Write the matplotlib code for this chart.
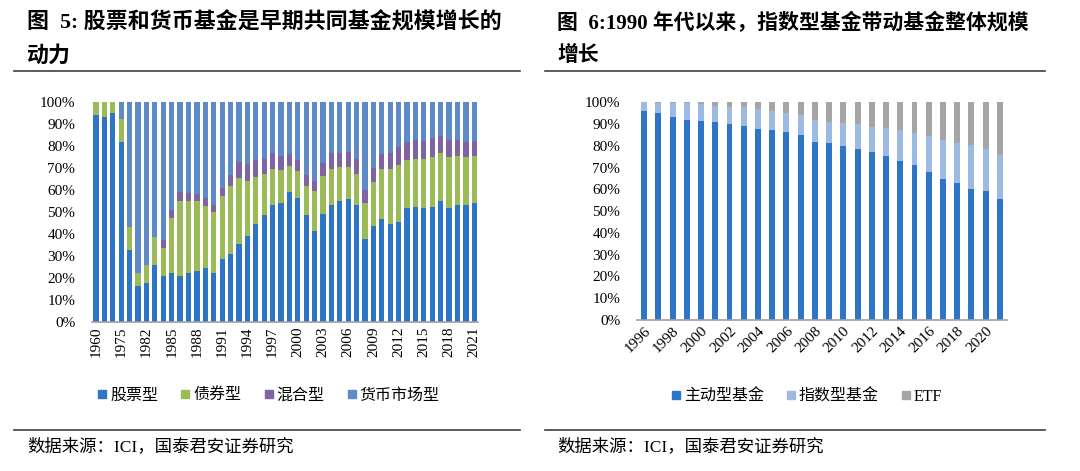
import matplotlib
matplotlib.use("Agg")
import matplotlib.pyplot as plt
from matplotlib.lines import Line2D
import numpy as np

plt.rcParams['font.family'] = ['Liberation Serif', 'Noto Sans CJK SC']

# ---- Left chart data ----
years_l = ['1960', '1965', '1970', '1975'] + [str(y) for y in range(1980, 2022)]
stock = [94.2, 93.0, 95.0, 81.6, 32.6, 16.5, 17.8, 25.7, 21.1, 22.2, 21.1, 22.4, 23.1, 24.5,
         22.2, 28.6, 31.1, 35.5, 39.2, 44.6, 48.7, 53.0, 53.9, 59.1, 56.4, 48.5, 41.2, 49.3,
         53.3, 54.8, 56.0, 53.3, 37.7, 43.6, 47.0, 44.6, 45.3, 51.6, 52.2, 51.9, 52.4, 54.8,
         51.9, 53.0, 53.0, 54.2]
bond_top = [100, 100, 100, 92.3, 43.3, 22.4, 25.7, 38.6, 33.7, 47.2, 55.1, 54.8, 54.8, 52.8,
            49.8, 57.4, 62.0, 65.5, 64.3, 66.0, 67.1, 69.4, 69.1, 70.9, 68.5, 62.0, 59.4, 66.3,
            69.7, 70.3, 70.4, 67.2, 54.1, 63.6, 69.4, 69.4, 71.5, 73.5, 74.1, 74.0, 74.9, 76.7,
            75.2, 75.6, 75.2, 75.3]
mixed_top = [100, 100, 100, 92.3, 43.3, 22.4, 25.7, 38.6, 37.1, 50.7, 59.0, 58.7, 58.2, 56.4,
             53.0, 61.0, 66.8, 72.7, 71.7, 73.5, 74.3, 76.6, 75.5, 76.3, 73.5, 66.8, 64.3, 72.4,
             76.6, 77.0, 77.5, 74.3, 59.9, 70.0, 76.3, 76.9, 79.6, 81.9, 82.8, 82.4, 83.5, 84.7,
             82.8, 82.8, 81.9, 82.4]
bond = [b - s for b, s in zip(bond_top, stock)]
mixed = [m - b for m, b in zip(mixed_top, bond_top)]
money = [100 - m for m in mixed_top]
series_l = ['股票型', '债券型', '混合型', '货币市场型']
colors_l = ['#2E75C6', '#9BBB59', '#8064A2', '#5F8AC8']

# ---- Right chart data ----
years_r = [str(y) for y in range(1996, 2022)]
active = [96.2, 94.9, 93.4, 92.0, 91.4, 90.8, 90.0, 89.3, 87.9, 87.3, 86.4, 84.8, 81.9, 81.2,
          79.9, 78.6, 77.3, 75.5, 73.2, 71.2, 68.0, 64.8, 62.8, 60.3, 59.1, 55.7]
index_top = [100.0, 99.8, 99.8, 99.5, 99.1, 98.5, 97.7, 97.7, 96.8, 96.0, 95.1, 94.2, 91.9, 91.1,
             90.4, 89.9, 88.8, 88.2, 87.1, 86.1, 84.5, 82.5, 81.5, 80.2, 78.4, 75.6]
index_f = [t - a for t, a in zip(index_top, active)]
etf = [100 - t for t in index_top]
series_r = ['主动型基金', '指数型基金', 'ETF']
colors_r = ['#2E75C6', '#9DBAE2', '#A5A5A5']

fig = plt.figure(figsize=(10.8, 4.71), dpi=100)

def style_axes(ax):
    for s in ['left', 'right', 'top']:
        ax.spines[s].set_visible(False)
    ax.spines['bottom'].set_color('#A0A0A0')
    ax.spines['bottom'].set_linewidth(1.2)
    ax.set_ylim(0, 1)
    ax.set_yticks(np.arange(0, 1.01, 0.1))
    ax.set_yticklabels([f'{int(round(v*100))}%' for v in np.arange(0, 1.01, 0.1)], fontsize=11)
    ax.tick_params(axis='y', length=0, pad=12)
    ax.tick_params(axis='x', length=0)

# Left axes
axl = fig.add_axes([92/1080, 1 - 322/471, 386/1080, 220/471])
xl = np.arange(len(years_l))
bottom = np.zeros(len(years_l))
for name, vals, c in zip(series_l, [stock, bond, mixed, money], colors_l):
    v = np.array(vals) / 100
    axl.bar(xl, v, bottom=bottom, width=0.62, color=c, label=name)
    bottom += v
style_axes(axl)
axl.set_xlim(-0.48, len(years_l) - 0.56)
axl.set_xticks(xl[::3])
axl.set_xticklabels(years_l[::3], rotation=90, fontsize=11)

# Right axes
axr = fig.add_axes([637/1080, 1 - 320/471, 370/1080, 217.7/471])
xr = np.arange(len(years_r))
bottom = np.zeros(len(years_r))
for name, vals, c in zip(series_r, [active, index_f, etf], colors_r):
    v = np.array(vals) / 100
    axr.bar(xr, v, bottom=bottom, width=0.42, color=c, label=name)
    bottom += v
style_axes(axr)
axr.set_xlim(-0.5, len(years_r) - 0.5)
axr.set_xticks(xr[::2])
axr.set_xticklabels(years_r[::2], rotation=45, ha='right', rotation_mode='anchor', fontsize=11)

# Legends
def sq(c):
    return Line2D([], [], marker='s', color=c, linestyle='none', markersize=6)

fig.legend([sq(c) for c in colors_l], series_l, loc='center', bbox_to_anchor=(267/1080, 1 - 395/471),
           ncol=4, frameon=False, handletextpad=0.0, columnspacing=1.2, handlelength=1.0,
           prop={'family': ['Noto Sans CJK SC'], 'size': 11.5})
fig.legend([sq(c) for c in colors_r], series_r, loc='center', bbox_to_anchor=(805/1080, 1 - 397/471),
           ncol=3, frameon=False, handletextpad=0.0, columnspacing=1.2, handlelength=1.0,
           prop={'family': ['Liberation Serif', 'Noto Sans CJK SC'], 'size': 11.5})

# Titles
tfam = ['Liberation Serif', 'Noto Sans CJK SC']
fig.text(27/1080, 1 - 23/471, '图  5: 股票和货币基金是早期共同基金规模增长的', fontsize=15.8,
         fontweight='bold', family=tfam, va='center', ha='left')
fig.text(27/1080, 1 - 56/471, '动力', fontsize=15.8, fontweight='bold', family=tfam, va='center', ha='left')
fig.text(557/1080, 1 - 23/471, '图  6:1990 年代以来，指数型基金带动基金整体规模', fontsize=15,
         fontweight='bold', family=tfam, va='center', ha='left')
fig.text(557/1080, 1 - 56/471, '增长', fontsize=15, fontweight='bold', family=tfam, va='center', ha='left')

# Rules
for x0, x1 in [(14, 520), (545, 1045)]:
    for y in [71, 430]:
        fig.add_artist(Line2D([x0/1080, x1/1080], [1 - y/471, 1 - y/471], color='#404040', linewidth=1.2))

# Footers
fig.text(27/1080, 1 - 447/471, '数据来源：ICI，国泰君安证券研究', fontsize=12.5, family=tfam, va='center', ha='left')
fig.text(557/1080, 1 - 447/471, '数据来源：ICI，国泰君安证券研究', fontsize=12.5, family=tfam, va='center', ha='left')

fig.savefig('out.png', dpi=100)
